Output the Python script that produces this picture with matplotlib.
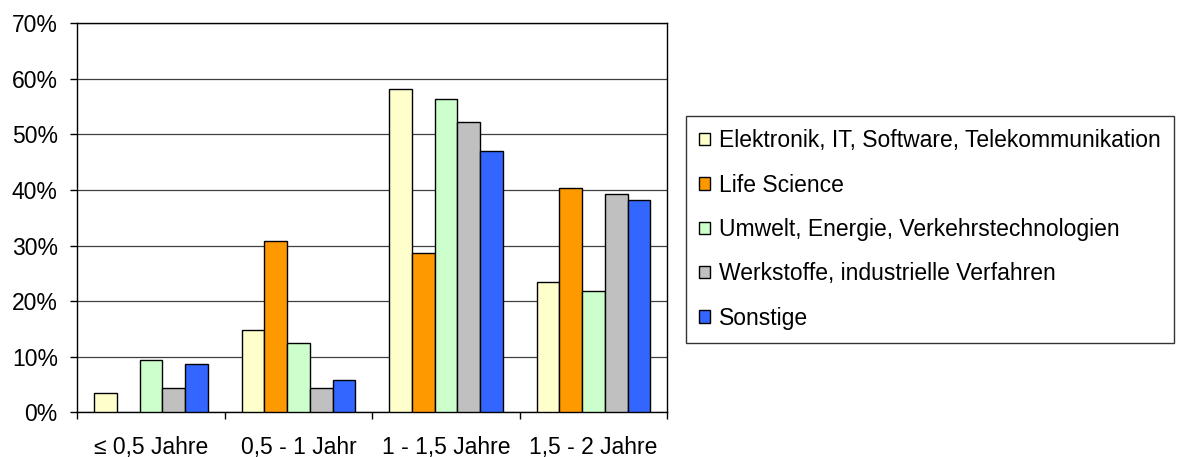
import matplotlib
matplotlib.use("Agg")
import matplotlib.pyplot as plt
import numpy as np
from matplotlib.ticker import FixedLocator, FuncFormatter

plt.rcParams['font.family'] = ['Liberation Sans', 'DejaVu Sans']

categories = ["≤ 0,5 Jahre", "0,5 - 1 Jahr", "1 - 1,5 Jahre", "1,5 - 2 Jahre"]
series_names = [
    "Elektronik, IT, Software, Telekommunikation",
    "Life Science",
    "Umwelt, Energie, Verkehrstechnologien",
    "Werkstoffe, industrielle Verfahren",
    "Sonstige",
]
elektronik = [3.4, 14.8, 58.1, 23.4]
life_science = [0.0, 30.9, 28.6, 40.4]
umwelt = [9.4, 12.5, 56.3, 21.8]
werkstoffe = [4.4, 4.4, 52.3, 39.2]
sonstige = [8.7, 5.9, 47.0, 38.2]
series_values = [elektronik, life_science, umwelt, werkstoffe, sonstige]
colors = ["#FFFFCC", "#FF9900", "#CCFFCC", "#C0C0C0", "#3366FF"]
y_ticks = [0, 10, 20, 30, 40, 50, 60, 70]

FS = 16.5
W, H = 1179, 457
fig = plt.figure(figsize=(W / 100, H / 100), dpi=100)
ax = fig.add_axes([77.3 / W, 1 - 412.3 / H, (667.3 - 77.3) / W, (412.3 - 23.3) / H])

x = np.arange(len(categories))
bw = 0.154
handles = []
for i, (name, vals, col) in enumerate(zip(series_names, series_values, colors)):
    lw = [1.0 if v > 0 else 0.0 for v in vals]
    b = ax.bar(x + (i - 2) * bw, vals, width=bw, color=col, edgecolor="black",
               linewidth=lw, label=name, zorder=3)
    handles.append(b)

ax.set_xlim(-0.5, len(categories) - 0.5)
ax.set_ylim(0, 70)
ax.set_yticks(y_ticks)
ax.yaxis.set_major_formatter(FuncFormatter(lambda v, p: f"{int(v)}%"))
ax.yaxis.grid(True, color="#404040", linewidth=0.9, zorder=0)
ax.set_axisbelow(True)

ax.set_xticks(x)
ax.set_xticklabels(categories)
ax.xaxis.set_minor_locator(FixedLocator(np.arange(-0.5, len(categories), 1.0)))
ax.tick_params(axis="x", which="major", length=0, pad=17, labelsize=FS)
ax.tick_params(axis="x", which="minor", length=5, width=1, direction="out")
ax.tick_params(axis="y", which="major", length=5, width=1, pad=9, labelsize=FS)

for s in ax.spines.values():
    s.set_linewidth(1.0)
    s.set_color("black")

leg = fig.legend(handles=handles, labels=series_names, loc="upper left",
                 bbox_to_anchor=(685.7 / W, 1 - 115.7 / H), fontsize=FS,
                 frameon=True, fancybox=False, edgecolor="black",
                 handlelength=0.45, handleheight=0.45, handletextpad=0.4,
                 labelspacing=0.93, borderpad=0.6, borderaxespad=0)
leg.get_frame().set_linewidth(1.0)
for h in leg.legend_handles:
    h.set_linewidth(1.0)

fig.savefig("out.png", dpi=100)
